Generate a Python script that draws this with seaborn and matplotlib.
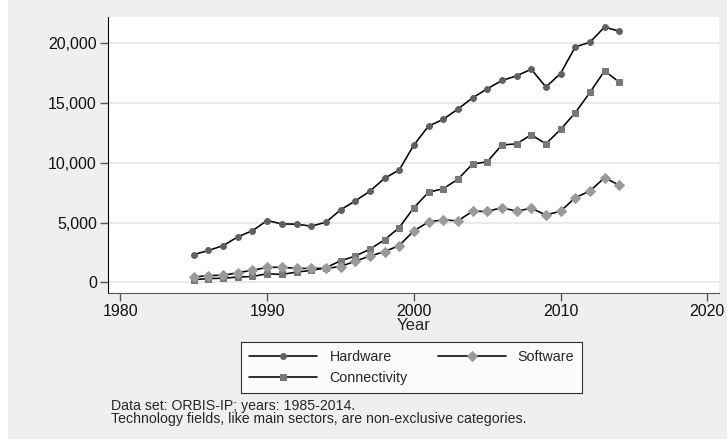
import matplotlib
matplotlib.use("Agg")
import matplotlib.pyplot as plt
import numpy as np
import pandas as pd
import seaborn as sns
from matplotlib.patches import Rectangle
from matplotlib.ticker import FuncFormatter


years = list(range(1985, 2015))

hardware = [2330, 2670, 3080, 3810, 4330, 5170, 4890, 4870, 4700, 5030,
            6060, 6810, 7620, 8700, 9390, 11480, 13060, 13620, 14480, 15420,
            16170, 16870, 17250, 17810, 16330, 17450, 19670, 20060, 21330, 20980]
software = [450, 580, 600, 810, 1030, 1250, 1280, 1170, 1180, 1170,
            1330, 1780, 2200, 2580, 3080, 4310, 5060, 5230, 5140, 5950,
            5930, 6250, 5950, 6200, 5640, 5950, 7080, 7640, 8750, 8120]
connectivity = [230, 330, 350, 450, 500, 730, 670, 870, 1000, 1230,
                1810, 2200, 2780, 3560, 4580, 6250, 7530, 7830, 8620, 9890,
                10080, 11480, 11580, 12330, 11580, 12780, 14170, 15870, 17670, 16730]

df = pd.DataFrame({
    "Year": years * 3,
    "value": hardware + software + connectivity,
    "field": ["Hardware"] * 30 + ["Software"] * 30 + ["Connectivity"] * 30,
})

sns.set_style("white")
plt.rcParams["font.family"] = ["Liberation Sans", "DejaVu Sans"]

W, H = 727, 441
fig = plt.figure(figsize=(W / 100, H / 100), dpi=100)
fig.patch.set_facecolor("white")
fig.patches.append(Rectangle((8 / W, 2 / H), 1, 1, transform=fig.transFigure,
                             facecolor="#efefef", edgecolor="none", zorder=-10))
ax = fig.add_axes([108 / W, 1 - 293 / H, (719 - 108) / W, (293 - 17) / H])
ax.set_facecolor("white")

# marker, colour, size
styles = {
    "Hardware": ("o", "#606060", 4.2),
    "Software": ("D", "#9a9a9a", 4.6),
    "Connectivity": ("s", "#787878", 4.0),
}
for name in ["Hardware", "Connectivity", "Software"]:
    m, c, s = styles[name]
    sub = df[df["field"] == name]
    sns.lineplot(data=sub, x="Year", y="value", ax=ax, color="black", lw=1.15,
                 marker=m, markersize=s, markerfacecolor=c, markeredgecolor=c,
                 label=name, legend=False)

ax.set_xlim(1979.15, 2020.8)
ax.set_ylim(-880, 22170)
ax.set_xticks([1980, 1990, 2000, 2010, 2020])
ax.set_yticks([0, 5000, 10000, 15000, 20000])
ax.yaxis.set_major_formatter(FuncFormatter(lambda v, p: f"{int(v):,}"))
ax.grid(axis="y", color="#e8e8e8", lw=1.3)
ax.set_axisbelow(True)
for sp in ["top", "right"]:
    ax.spines[sp].set_visible(False)
ax.spines["left"].set_color("black")
ax.spines["bottom"].set_color("#555555")
ax.tick_params(axis="both", which="major", length=5.5, width=1, color="#555555",
               labelsize=11.5, labelcolor="#111111", direction="out",
               left=True, bottom=True, pad=2.5)
ax.set_xlabel("Year", fontsize=12, labelpad=-1)
ax.set_ylabel("")

# stata-style legend: row 1 Hardware | Software, row 2 Connectivity
handles, labels = ax.get_legend_handles_labels()
leg = fig.legend(handles, labels, ncol=2, loc="upper left",
                 bbox_to_anchor=(241.5 / W, 1 - 342.3 / H),
                 frameon=True, fancybox=False, fontsize=10.3, handlelength=4.75,
                 handletextpad=0.85, columnspacing=2.1, borderpad=0.55,
                 labelspacing=0.5, borderaxespad=0)
leg.get_frame().set_edgecolor("black")
leg.get_frame().set_linewidth(0.8)
leg.get_frame().set_facecolor("white")

fig.text(111 / W, 1 - 406 / H, "Data set: ORBIS-IP; years: 1985-2014.",
         fontsize=10.2, va="center", ha="left")
fig.text(111 / W, 1 - 418.5 / H,
         "Technology fields, like main sectors, are non-exclusive categories.",
         fontsize=10.2, va="center", ha="left")

fig.savefig("out.png", dpi=100)
